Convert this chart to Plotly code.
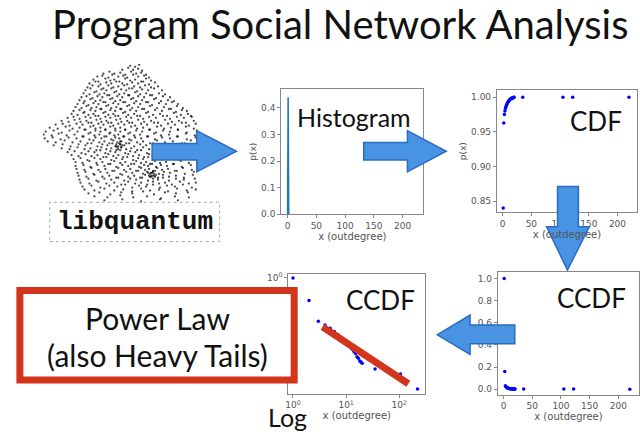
import plotly.graph_objects as go

W, H = 640, 436

# outdegree distribution values
degree = [1, 2, 3, 4, 5, 6, 7, 8, 9, 10, 11, 12, 13, 14, 15, 16, 17, 18, 19, 20, 35, 105, 122, 220]
cdf = [0.84, 0.963, 0.975, 0.980, 0.984, 0.987, 0.989, 0.991, 0.993, 0.994, 0.995, 0.996,
       0.997, 0.998, 0.998, 0.999, 0.999, 0.999, 1.0, 1.0, 1.0, 1.0, 1.0, 1.0]
ccdf = [1.0, 0.16, 0.030, 0.022, 0.017, 0.013, 0.010, 0.008, 0.0065, 0.0053, 0.0044, 0.0037,
        0.0031, 0.0026, 0.0022, 0.0017, 0.0015, 0.0012, 0.0011, 0.0010, 0.00063, 0.00042,
        0.00025, 0.000125]
# histogram: only the spike near x=1 is visible, the rest sits on the axis
hist_x = [0, 1, 2]
hist_p = [0.0, 0.44, 0.0]

# hand drawn power-law fit (red marker stroke)
fit_x = [3.6, 148]
fit_y = [0.019, 0.00019]

# node positions of the libquantum call graph (approximate)
network_nodes = [
    (128, 64), (133, 65), (137, 63),
    (120, 68), (126, 66), (131, 68), (136, 67), (140, 69),
    (101, 72), (107, 70), (112, 72), (118, 71), (123, 73), (129, 70), (134, 72), (139, 71), (144, 73),
    (95, 75), (100, 74), (106, 76), (110, 73), (116, 75), (121, 74), (125, 76), (131, 73), (136, 75),
    (142, 74), (147, 76),
    (91, 78), (96, 80), (103, 77), (108, 79), (112, 78), (117, 80), (123, 77), (128, 79), (133, 78),
    (139, 80), (144, 77), (149, 79),
    (87, 82), (93, 80), (98, 83), (104, 81), (109, 82), (114, 80), (120, 82), (125, 83), (130, 81),
    (136, 82), (141, 80), (147, 83), (153, 81),
    (85, 86), (90, 84), (96, 85), (101, 87), (106, 84), (111, 86), (116, 85), (122, 84), (127, 87),
    (132, 85), (138, 86), (143, 84), (149, 86), (156, 85),
    (83, 89), (88, 87), (94, 90), (99, 88), (104, 89), (109, 87), (114, 90), (119, 88), (124, 89),
    (130, 87), (135, 90), (140, 88), (146, 89), (152, 87), (160, 89),
    (81, 92), (87, 93), (92, 91), (97, 93), (102, 92), (107, 94), (112, 91), (117, 93), (122, 92),
    (127, 94), (133, 91), (138, 93), (144, 92), (150, 94), (157, 92), (163, 93),
    (79, 96), (84, 95), (90, 97), (95, 95), (100, 96), (105, 94), (110, 97), (115, 95), (120, 96),
    (126, 94), (131, 97), (136, 95), (142, 96), (148, 94), (154, 97), (161, 95), (168, 96),
    (77, 99), (82, 100), (88, 98), (93, 100), (98, 99), (103, 101), (108, 98), (113, 100), (118, 99),
    (123, 101), (129, 98), (134, 100), (140, 99), (146, 101), (152, 98), (159, 100), (166, 99), (172, 100),
    (75, 103), (81, 102), (86, 104), (91, 102), (96, 103), (101, 101), (106, 104), (111, 102), (116, 103),
    (121, 101), (127, 104), (132, 102), (138, 103), (144, 101), (150, 104), (157, 102), (164, 103),
    (170, 101), (176, 103),
    (73, 106), (79, 107), (84, 105), (89, 107), (94, 106), (99, 108), (104, 105), (109, 107), (114, 106),
    (119, 108), (125, 105), (130, 107), (136, 106), (142, 108), (148, 105), (155, 107), (162, 106),
    (169, 108), (175, 105), (181, 107),
    (71, 110), (77, 109), (82, 111), (88, 109), (93, 110), (98, 108), (103, 111), (108, 109), (113, 110),
    (118, 108), (123, 111), (128, 109), (134, 110), (140, 108), (146, 111), (153, 109), (160, 110),
    (167, 108), (174, 111), (180, 109), (185, 110),
    (69, 113), (75, 114), (81, 112), (86, 114), (91, 113), (96, 115), (101, 112), (106, 114), (111, 113),
    (116, 115), (121, 112), (126, 114), (132, 113), (138, 115), (144, 112), (151, 114), (158, 113),
    (165, 115), (172, 112), (179, 114), (186, 113), (189, 115),
    (65, 117), (71, 116), (77, 118), (83, 116), (88, 117), (93, 115), (98, 118), (103, 116), (108, 117),
    (113, 115), (118, 118), (124, 116), (129, 117), (135, 115), (141, 118), (147, 116), (154, 117),
    (161, 115), (168, 118), (175, 116), (182, 117), (190, 116),
    (59, 120), (66, 121), (72, 119), (78, 121), (84, 120), (89, 122), (94, 119), (99, 121), (104, 120),
    (109, 122), (114, 119), (119, 121), (125, 120), (130, 122), (136, 119), (142, 121), (149, 120),
    (156, 122), (163, 119), (170, 121), (177, 120), (184, 122), (192, 120),
    (53, 124), (60, 123), (67, 125), (74, 123), (80, 124), (86, 122), (91, 125), (96, 123), (101, 124),
    (106, 122), (111, 125), (116, 123), (122, 124), (127, 122), (133, 125), (139, 123), (145, 124),
    (152, 122), (159, 125), (166, 123), (173, 124), (180, 122), (187, 125), (194, 123),
    (47, 127), (55, 128), (63, 126), (70, 128), (77, 127), (83, 129), (88, 126), (93, 128), (98, 127),
    (103, 129), (108, 126), (113, 128), (118, 127), (123, 129), (129, 126), (135, 128), (141, 127),
    (148, 129), (155, 126), (162, 128), (169, 127), (176, 129), (184, 126), (192, 128),
    (43, 131), (51, 130), (59, 132), (67, 130), (75, 131), (82, 129), (88, 132), (93, 130), (98, 131),
    (103, 129), (108, 132), (113, 130), (118, 131), (123, 129), (128, 132), (134, 130), (140, 131),
    (147, 129), (154, 132), (161, 130), (168, 131), (176, 129), (185, 132), (195, 130),
    (41, 134), (49, 135), (56, 133), (64, 135), (72, 134), (80, 136), (86, 133), (92, 135), (97, 134),
    (102, 136), (107, 133), (112, 135), (116, 134), (121, 136), (126, 133), (132, 135), (138, 134),
    (145, 136), (152, 133), (159, 135), (167, 134), (175, 136), (184, 133), (193, 135),
    (42, 138), (50, 137), (58, 139), (66, 137), (74, 138), (81, 136), (87, 139), (93, 137), (99, 138),
    (104, 136), (109, 139), (113, 137), (117, 138), (122, 136), (127, 139), (133, 137), (139, 138),
    (146, 136), (153, 139), (160, 137), (168, 138), (176, 136), (185, 139), (194, 137),
    (45, 141), (53, 142), (62, 140), (70, 142), (78, 141), (85, 143), (91, 140), (97, 142), (102, 141),
    (107, 143), (111, 140), (115, 142), (119, 141), (124, 143), (129, 140), (135, 142), (141, 141),
    (148, 143), (155, 140), (163, 142), (171, 141), (180, 143), (189, 140),
    (51, 145), (60, 144), (68, 146), (76, 144), (83, 145), (89, 143), (95, 146), (100, 144), (105, 145),
    (110, 143), (114, 146), (118, 144), (122, 145), (127, 143), (132, 146), (138, 144), (144, 145),
    (151, 143), (158, 146), (166, 144), (174, 145), (183, 143), (192, 146),
    (59, 148), (67, 149), (75, 147), (82, 149), (88, 148), (94, 150), (99, 147), (104, 149), (109, 148),
    (114, 150), (119, 147), (124, 149), (129, 148), (135, 150), (141, 147), (147, 149), (154, 148),
    (161, 150), (169, 147), (177, 149), (185, 148), (192, 150),
    (65, 152), (72, 151), (79, 153), (86, 151), (92, 152), (98, 150), (103, 153), (108, 151), (113, 152),
    (118, 150), (123, 153), (128, 151), (133, 152), (139, 150), (145, 153), (151, 151), (157, 152),
    (164, 150), (172, 153), (180, 151), (188, 152),
    (69, 155), (76, 156), (83, 154), (89, 156), (95, 155), (101, 157), (106, 154), (111, 156), (116, 155),
    (121, 157), (126, 154), (131, 156), (137, 155), (142, 157), (147, 154), (152, 156), (158, 155),
    (165, 157), (173, 154), (181, 156), (190, 155),
    (71, 159), (78, 158), (85, 160), (92, 158), (98, 159), (104, 157), (109, 160), (114, 158), (120, 159),
    (125, 157), (131, 160), (136, 158), (141, 159), (146, 157), (151, 160), (156, 158), (162, 159),
    (169, 157), (177, 160), (185, 158), (191, 159),
    (73, 162), (80, 163), (87, 161), (94, 163), (100, 162), (106, 164), (112, 161), (118, 163), (123, 162),
    (129, 164), (134, 161), (139, 163), (144, 162), (148, 164), (153, 161), (158, 163), (164, 162),
    (171, 164), (179, 161), (187, 163),
    (73, 166), (81, 165), (88, 167), (95, 165), (102, 166), (108, 164), (114, 167), (120, 165), (126, 166),
    (132, 164), (137, 167), (142, 165), (146, 166), (150, 164), (154, 167), (159, 165), (165, 166),
    (172, 164), (180, 167), (189, 165),
    (74, 169), (82, 170), (89, 168), (96, 170), (103, 169), (110, 171), (116, 168), (122, 170), (128, 169),
    (134, 171), (139, 168), (143, 170), (147, 169), (151, 171), (155, 168), (160, 170), (166, 169),
    (173, 171), (181, 168), (190, 170),
    (75, 173), (83, 172), (91, 174), (98, 172), (105, 173), (112, 171), (118, 174), (124, 172), (130, 173),
    (136, 171), (141, 174), (145, 172), (149, 173), (153, 171), (157, 174), (162, 172), (168, 173),
    (175, 171), (183, 174), (192, 172),
    (76, 176), (84, 177), (92, 175), (100, 177), (107, 176), (114, 178), (120, 175), (126, 177), (132, 176),
    (138, 178), (143, 175), (148, 177), (152, 176), (156, 178), (161, 175), (167, 177), (174, 176),
    (182, 178), (191, 175),
    (77, 180), (86, 179), (94, 181), (102, 179), (109, 180), (116, 178), (122, 181), (128, 179), (134, 180),
    (140, 178), (146, 181), (151, 179), (156, 180), (161, 178), (167, 181), (174, 179), (182, 180), (193, 179),
    (78, 183), (87, 184), (96, 182), (104, 184), (112, 183), (119, 185), (126, 182), (133, 184), (139, 183),
    (145, 185), (151, 182), (157, 184), (163, 183), (170, 185), (178, 182), (187, 184), (194, 183),
    (80, 187), (89, 186), (98, 188), (107, 186), (115, 187), (123, 185), (130, 188), (137, 186), (144, 187),
    (151, 185), (158, 188), (165, 186), (173, 187), (181, 185), (190, 188),
    (82, 190), (92, 191), (102, 189), (112, 191), (121, 190), (130, 192), (139, 189), (148, 191), (157, 190),
    (166, 192), (175, 189), (185, 191), (194, 190),
    (86, 194), (97, 193), (108, 195), (119, 193), (130, 194), (141, 192), (152, 195), (163, 193), (174, 194),
    (186, 193),
    (92, 197), (105, 198), (118, 196), (131, 198), (145, 197), (159, 199), (173, 197), (187, 198),
    (102, 201), (120, 200), (139, 202), (158, 200), (176, 201),
    # two hubs
    (114, 144), (116, 146), (118, 144), (119, 147), (115, 147), (117, 143), (120, 145), (113, 146),
    (116, 149), (118, 141), (148, 174), (150, 176), (152, 174), (149, 177), (151, 172), (153, 177),
    (147, 176), (150, 173), (154, 175), (146, 173),
]


def px(x):
    return x / W


def py(y):
    return 1 - y / H


def poly_path(pts):
    return "M " + " L ".join(f"{px(x):.4f},{py(y):.4f}" for x, y in pts) + " Z"


TICK_FONT = dict(family="DejaVu Sans", size=9, color="#555")
SLIDE_FONT = "Lato"
BLUE = "#0000ff"

fig = go.Figure()

# network cloud
fig.add_trace(go.Scatter(x=[n[0] for n in network_nodes], y=[n[1] for n in network_nodes],
                         mode="markers", xaxis="x5", yaxis="y5",
                         marker=dict(color="black", size=2.3, opacity=0.7)))

# histogram
fig.add_trace(go.Scatter(x=hist_x, y=hist_p, mode="lines", xaxis="x", yaxis="y",
                         line=dict(color="#1f77b4", width=1.5)))
# cdf
fig.add_trace(go.Scatter(x=degree, y=cdf, mode="markers", xaxis="x2", yaxis="y2",
                         marker=dict(color=BLUE, size=3.5)))
# ccdf linear
fig.add_trace(go.Scatter(x=degree, y=ccdf, mode="markers", xaxis="x3", yaxis="y3",
                         marker=dict(color=BLUE, size=3.5)))
# ccdf log-log
fig.add_trace(go.Scatter(x=degree, y=ccdf, mode="markers", xaxis="x4", yaxis="y4",
                         marker=dict(color=BLUE, size=3.5)))
fig.add_trace(go.Scatter(x=fit_x, y=fit_y, mode="lines", xaxis="x4", yaxis="y4",
                         line=dict(color="#d2341c", width=7)))


def axis(x0, x1, rng, **kw):
    d = dict(domain=[px(x0), px(x1)], range=rng, showline=True, mirror=True,
             linecolor="#888", linewidth=1, ticks="outside", ticklen=3, tickcolor="#888",
             showgrid=False, zeroline=False, tickfont=TICK_FONT)
    d.update(kw)
    return d


def yaxis(y0, y1, rng, **kw):
    d = dict(domain=[py(y1), py(y0)], range=rng, showline=True, mirror=True,
             linecolor="#888", linewidth=1, ticks="outside", ticklen=3, tickcolor="#888",
             showgrid=False, zeroline=False, tickfont=TICK_FONT)
    d.update(kw)
    return d


xt = dict(tickvals=[0, 50, 100, 150, 200])
xtitle = dict(text="x (outdegree)", font=dict(family="DejaVu Sans", size=10, color="#555"), standoff=2)
ytitle = dict(text="p(x)", font=dict(family="DejaVu Sans", size=9, color="#555"), standoff=2)

fig.update_layout(
    width=W, height=H, margin=dict(l=0, r=0, t=0, b=0),
    paper_bgcolor="white", plot_bgcolor="white", showlegend=False,
    xaxis=axis(280, 423, [-11, 236], anchor="y", title=xtitle, **xt),
    yaxis=yaxis(88, 215, [0, 0.47], anchor="x", title=ytitle,
                tickvals=[0, 0.1, 0.2, 0.3, 0.4], ticktext=["0.0", "0.1", "0.2", "0.3", "0.4"]),
    xaxis2=axis(497, 638, [-10, 234], anchor="y2", title=xtitle, **xt),
    yaxis2=yaxis(89, 213, [0.834, 1.01], anchor="x2", title=ytitle,
                 tickvals=[0.85, 0.90, 0.95, 1.00], ticktext=["0.85", "0.90", "0.95", "1.00"]),
    xaxis3=axis(498, 640, [-10, 236], anchor="y3", title=xtitle, **xt),
    yaxis3=yaxis(274, 399, [-0.05, 1.06], anchor="x3",
                 tickvals=[0, 0.2, 0.4, 0.6, 0.8, 1.0], ticktext=["0.0", "0.2", "0.4", "0.6", "0.8", "1.0"]),
    xaxis4=axis(287, 425, [-0.09, 2.49], anchor="y4", type="log", title=xtitle,
                tickvals=[1, 10, 100], ticktext=["10<sup>0</sup>", "10<sup>1</sup>", "10<sup>2</sup>"]),
    yaxis4=yaxis(276, 398, [-4.07, 0.14], anchor="x4", type="log",
                 tickvals=[1], ticktext=["10<sup>0</sup>"]),
    xaxis5=dict(domain=[px(40), px(200)], range=[40, 200], visible=False, anchor="y5"),
    yaxis5=dict(domain=[py(205), py(62)], range=[205, 62], visible=False, anchor="x5"),
)

ARROW = dict(type="path", xref="paper", yref="paper", fillcolor="#4893e2",
             line=dict(color="#2a6cc4", width=1.5), layer="above")
arrows = [
    [(150, 143), (195, 143), (195, 130), (235, 151), (195, 172), (195, 160), (150, 160)],
    [(363, 142), (407, 142), (407, 130), (446, 151), (407, 172), (407, 160), (363, 160)],
    [(558, 187), (579, 187), (579, 228), (590, 228), (568, 272), (547, 228), (558, 228)],
    [(515, 328), (515, 347), (470, 347), (470, 358), (437, 338), (470, 318), (470, 328)],
]
shapes = [dict(path=poly_path(a), **ARROW) for a in arrows]

# libquantum label box
shapes.append(dict(type="rect", xref="paper", yref="paper", x0=px(47), x1=px(218), y0=py(243), y1=py(203),
                   line=dict(color="#aaa", width=1, dash="dot"), fillcolor="rgba(0,0,0,0)", layer="above"))
# red power law box
shapes.append(dict(type="rect", xref="paper", yref="paper", x0=px(17), x1=px(293), y0=py(384), y1=py(293),
                   line=dict(color="#d2341c", width=7), fillcolor="white", layer="above"))
fig.update_layout(shapes=shapes)


def label(text, x, y, size, family=SLIDE_FONT, color="#111"):
    fig.add_annotation(text=text, x=px(x), y=py(y), xref="paper", yref="paper", showarrow=False,
                       xanchor="center", yanchor="middle", font=dict(family=family, size=size, color=color))


label("Program Social Network Analysis", 340, 21, 40)
label("<b>libquantum</b>", 133, 223, 26, family="Liberation Mono")
label("Histogram", 353, 116, 25)
label("CDF", 597, 120, 26)
label("CCDF", 592, 301, 26)
label("CCDF", 380, 303, 26)
label("Power Law", 155, 321, 30)
label("(also Heavy Tails)", 155, 359, 30)
label("Log", 286, 422, 25)

# the page body has a default 8px margin; drop it so the figure fills the window
fig.write_html("out.html", config={"displayModeBar": False},
               post_script="document.body.style.margin='0';")
